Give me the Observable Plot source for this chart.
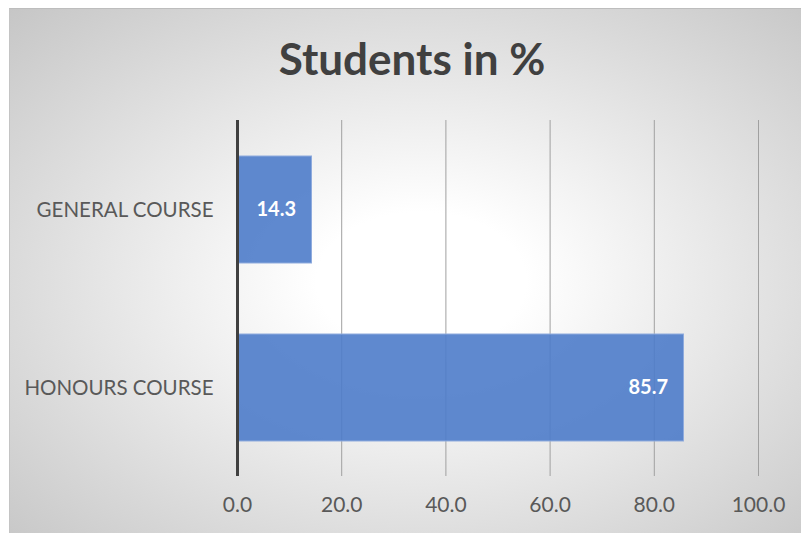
<!DOCTYPE html>
<html>
<head>
<meta charset="utf-8">
<script src="https://cdn.jsdelivr.net/npm/d3@7"></script>
<script src="https://cdn.jsdelivr.net/npm/@observablehq/plot@0.6"></script>
<style>
  html, body { margin: 0; padding: 0; background: #ffffff; }
  #chart {
    position: absolute; left: 9px; top: 8px; width: 792px; height: 525px;
    background: radial-gradient(ellipse farthest-corner at 52% 52%, #ffffff 0%, #ffffff 18%, #c6c6c6 100%);
    border-top: 1px solid #bdbdbd; border-left: 1px solid #c4c4c4;
    box-sizing: border-box; overflow: hidden;
  }
  #title {
    position: absolute; left: 0; top: 27px; width: 792px; padding-left: 12px; box-sizing: border-box;
    text-align: center; font-family: Lato, sans-serif; font-weight: bold; font-size: 44px;
    line-height: 44px; color: #404040; margin: 0;
  }
  #plot { position: absolute; left: -1px; top: -1px; }
</style>
</head>
<body>
<div id="chart">
  <div id="plot"></div>
  <div id="title">Students in %</div>
</div>
<script>
const categories = ["GENERAL COURSE", "HONOURS COURSE"];
const values = [14.3, 85.7];
const xTicks = [0, 20, 40, 60, 80, 100];

const data = categories.map((c, i) => ({category: c, value: values[i]}));

const chart = Plot.plot({
  width: 792,
  height: 525,
  marginLeft: 228,
  marginRight: 43,
  marginTop: 112,
  marginBottom: 57,
  style: {background: "transparent", fontFamily: "Lato, sans-serif", color: "#595959"},
  x: {domain: [0, 100], label: null},
  y: {domain: categories, paddingInner: 0.4, paddingOuter: 0.2, label: null},
  marks: [
    Plot.ruleX(xTicks.slice(1), {stroke: "#a0a0a0", strokeWidth: 1}),
    Plot.barX(data, {x: "value", y: "category", fill: "#4e7cca", fillOpacity: 0.9, stroke: "#8fabdd", strokeWidth: 1}),
    Plot.ruleX([0], {stroke: "#404040", strokeWidth: 3}),
    Plot.text(data, {x: "value", y: "category", text: d => d.value.toFixed(1), textAnchor: "end", dx: -16, fill: "white", fontWeight: "bold", fontSize: 20}),
    Plot.axisX({ticks: xTicks, tickFormat: d => d.toFixed(1), tickSize: 0, tickPadding: 21, fontSize: 21, fill: "#595959", label: null}),
    Plot.axisY({tickSize: 0, tickPadding: 24, fontSize: 20.5, fill: "#595959", label: null})
  ]
});
document.getElementById("plot").appendChild(chart);
</script>
</body>
</html>
